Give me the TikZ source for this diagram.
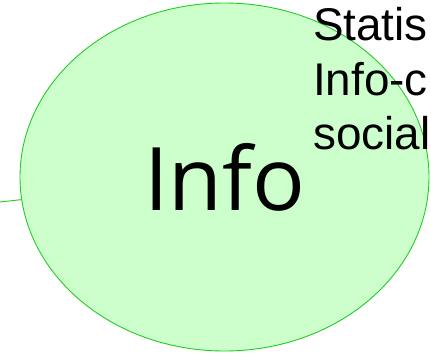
\documentclass[tikz,border=0pt]{standalone}
\usepackage{fontspec}
\setmainfont{Liberation Sans}
\newfontfamily\infofont{Open Sans}
\usetikzlibrary{shapes.geometric}
\definecolor{infofill}{HTML}{CCFFCC}
\definecolor{infoline}{HTML}{22CC22}

\begin{document}
\begin{tikzpicture}[x=1bp,y=-1bp,
  infobubble/.style={ellipse,draw=infoline,fill=infofill,line width=0.9bp,
    minimum width=409bp,minimum height=348bp,inner sep=0,
    font=\infofont\fontsize{88}{88}\selectfont},
  sidenote/.style={anchor=north west,inner sep=0,align=left,
    font=\fontsize{46}{54.5}\selectfont}]
\useasboundingbox (0,0) rectangle (431,353);
\clip (0,0) rectangle (431,353);
\node[infobubble] (info) at (224.5,177) {Info};
\coordinate (feed) at (0,202);
\draw[infoline,line width=0.9bp] (feed) -- (info);
\node[sidenote] (stats) at (313,7.5) {Statis\\Info-c\\social};
\end{tikzpicture}
\end{document}
